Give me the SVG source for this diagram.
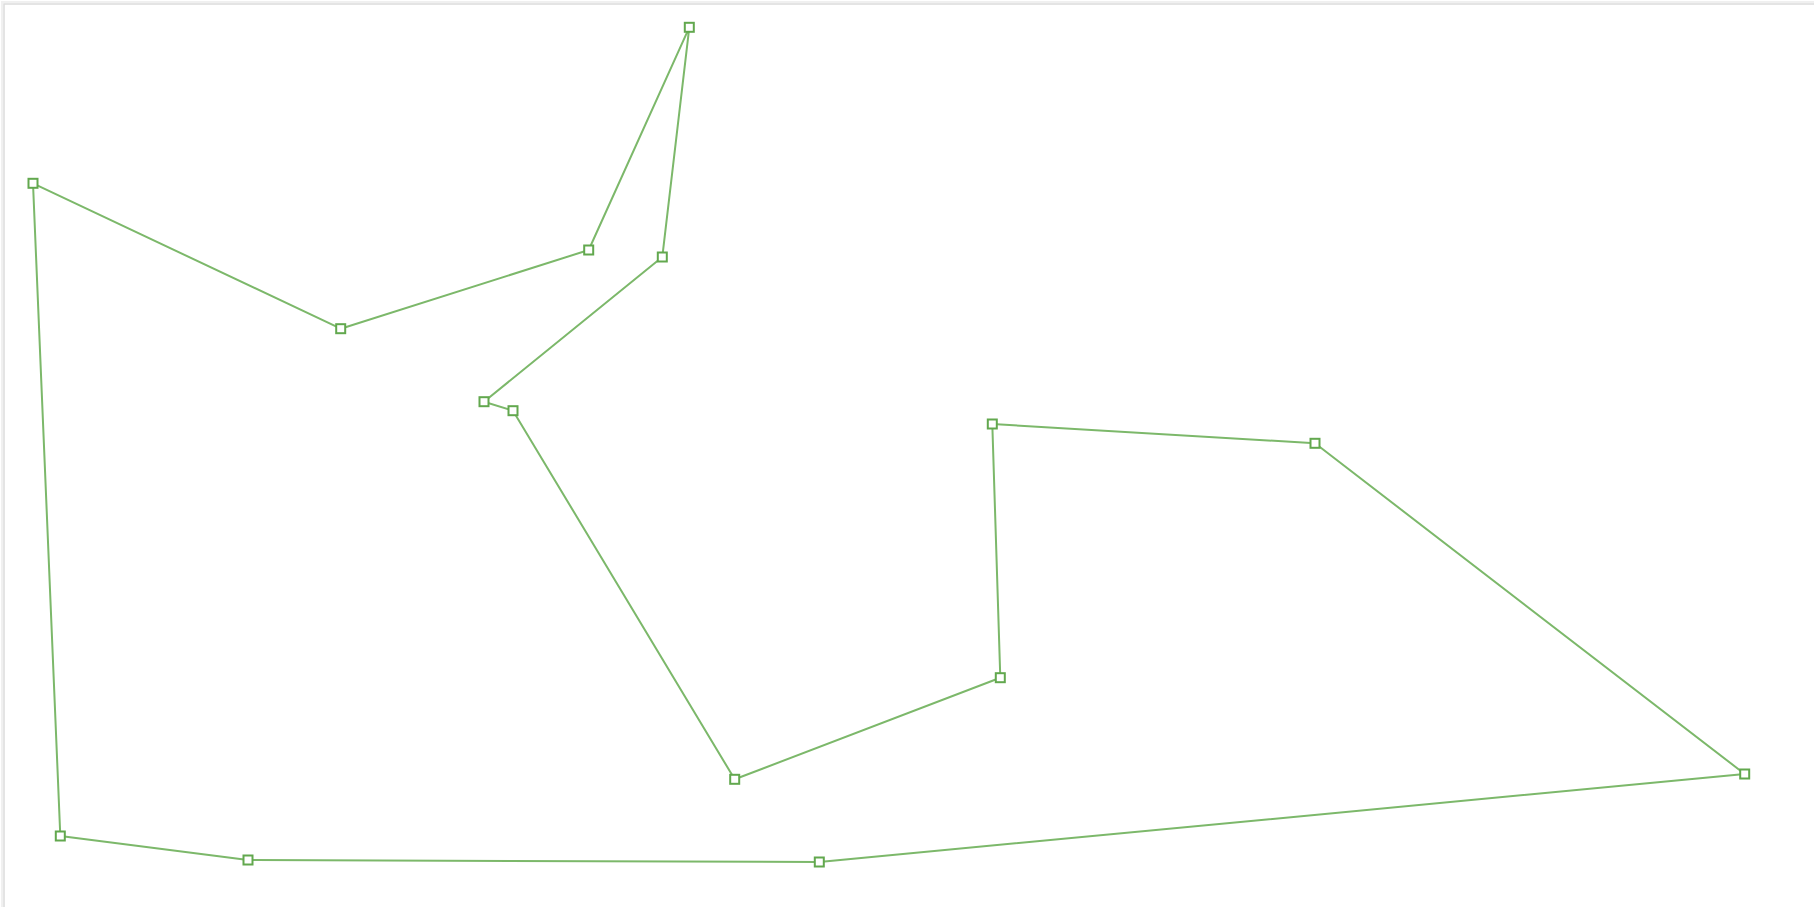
<svg xmlns="http://www.w3.org/2000/svg" width="1814" height="907" viewBox="0 0 1814 907">
<style>
.edge{fill:none;stroke:#7cb86a;stroke-width:2;stroke-linejoin:round}
.pt{fill:#ffffff;stroke:#62a84e;stroke-width:2}
</style>
<defs><rect id="sq" x="-4.5" y="-4.5" width="9" height="9"/></defs>
<rect x="0" y="0" width="1814" height="907" fill="#ffffff"/>
<rect x="2" y="2" width="1830" height="920" fill="none" stroke="#f0f0f0" stroke-width="2"/>
<rect x="4" y="4" width="1830" height="920" fill="none" stroke="#dcdcdc" stroke-width="1.5"/>
<g id="connectors">
<polyline class="edge" points="734.7,779.3 513,410.7 484,401.7 662.3,257 689.3,27.3 588.7,250 340.7,328.7 33,183.3 60.3,836 248,860 819.3,862 1744.7,774 1315,443.3 992.3,424 1000.3,677.7 734.7,779.3"/>
</g>
<g id="n1"><use href="#sq" class="pt" x="689.3" y="27.3"/></g>
<g id="n2"><use href="#sq" class="pt" x="662.3" y="257"/></g>
<g id="n3"><use href="#sq" class="pt" x="588.7" y="250"/></g>
<g id="n4"><use href="#sq" class="pt" x="340.7" y="328.7"/></g>
<g id="n5"><use href="#sq" class="pt" x="33" y="183.3"/></g>
<g id="n6"><use href="#sq" class="pt" x="60.3" y="836"/></g>
<g id="n7"><use href="#sq" class="pt" x="248" y="860"/></g>
<g id="n8"><use href="#sq" class="pt" x="819.3" y="862"/></g>
<g id="n9"><use href="#sq" class="pt" x="1744.7" y="774"/></g>
<g id="n10"><use href="#sq" class="pt" x="1315" y="443.3"/></g>
<g id="n11"><use href="#sq" class="pt" x="992.3" y="424"/></g>
<g id="n12"><use href="#sq" class="pt" x="1000.3" y="677.7"/></g>
<g id="n13"><use href="#sq" class="pt" x="734.7" y="779.3"/></g>
<g id="n14"><use href="#sq" class="pt" x="513" y="410.7"/></g>
<g id="n15"><use href="#sq" class="pt" x="484" y="401.7"/></g>
</svg>
